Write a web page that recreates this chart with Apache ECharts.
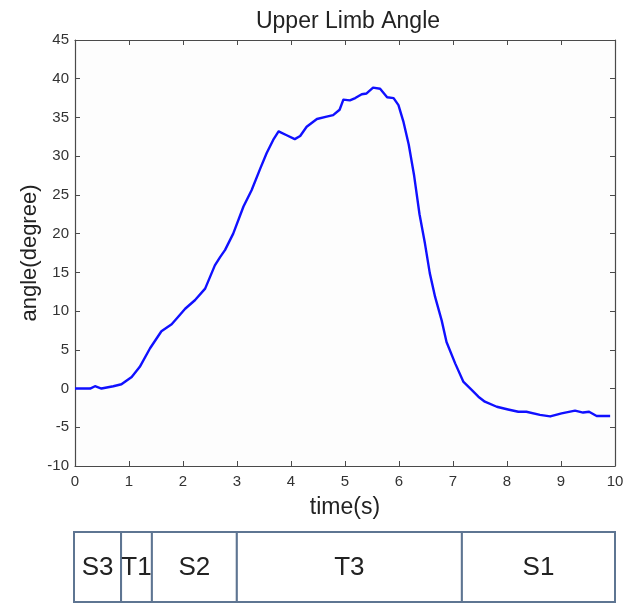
<!DOCTYPE html>
<html>
<head>
<meta charset="utf-8">
<title>Upper Limb Angle</title>
<script src="https://cdn.jsdelivr.net/npm/echarts@6/dist/echarts.min.js"></script>
<style>
  html, body { margin: 0; padding: 0; background: #fff; }
  #main { width: 640px; height: 605px; }
</style>
</head>
<body>
<div id="main"></div>
<script>
// time (s) and angle (degree)
var timeSec = [0, 0.28, 0.37, 0.49, 0.71, 0.86, 1.05, 1.2, 1.39, 1.6, 1.79, 1.94, 2.04, 2.22, 2.41,
  2.59, 2.69, 2.78, 2.93, 3.12, 3.27, 3.43, 3.55, 3.67, 3.77, 3.92, 4.07, 4.17, 4.29, 4.48, 4.66,
  4.78, 4.9, 4.97, 5.09, 5.19, 5.31, 5.4, 5.52, 5.65, 5.78, 5.9, 5.99, 6.08, 6.18, 6.28, 6.38,
  6.48, 6.57, 6.67, 6.79, 6.88, 7.04, 7.19, 7.35, 7.47, 7.59, 7.81, 8.02, 8.21, 8.36, 8.61, 8.8,
  9.01, 9.26, 9.41, 9.52, 9.66, 9.91];
var angleDeg = [0, 0, 0.3, 0, 0.3, 0.55, 1.5, 2.8, 5.2, 7.4, 8.3, 9.5, 10.3, 11.4, 12.9,
  15.9, 17.0, 17.9, 20.0, 23.5, 25.6, 28.4, 30.4, 32.1, 33.2, 32.7, 32.2, 32.6, 33.8, 34.8, 35.1,
  35.3, 36.0, 37.3, 37.2, 37.5, 38.0, 38.1, 38.85, 38.7, 37.6, 37.5, 36.6, 34.5, 31.5, 27.5, 22.5,
  18.75, 14.9, 11.8, 8.8, 6.0, 3.25, 0.9, -0.2, -1.05, -1.7, -2.35, -2.7, -3.0, -3.0, -3.4, -3.6,
  -3.2, -2.85, -3.1, -3.0, -3.55, -3.55];

// phase strip under the chart
var phaseLabels = ['S3', 'T1', 'S2', 'T3', 'S1'];
var phaseBounds = [0, 0.87, 1.44, 3.01, 7.17, 10];

var yMin = -10, yMax = 45, yStep = 5;

var curve = [];
for (var i = 0; i < timeSec.length; i++) {
  curve.push([timeSec[i], angleDeg[i]]);
}
var phases = [];
for (var i = 0; i < phaseLabels.length; i++) {
  phases.push([phaseBounds[i], phaseBounds[i + 1]]);
}

var axisColor = '#4a4a4a';
var font = 'Liberation Sans, Arial, sans-serif';

// axis line + inward ticks, used for all four sides of the frame
function frameLine() {
  return { show: true, onZero: false, lineStyle: { color: axisColor, width: 1.2 } };
}
function frameTick() {
  return { show: true, inside: true, length: 5, lineStyle: { color: axisColor, width: 1 } };
}

var myChart = echarts.init(document.getElementById('main'));
var option = {
  backgroundColor: '#fff',
  animation: false,
  title: {
    text: 'Upper Limb Angle',
    left: 343,
    textAlign: 'center',
    top: 5,
    textStyle: { fontFamily: font, fontWeight: 'normal', fontSize: 23, color: '#222' }
  },
  grid: [
    { left: 75, right: 25, top: 40, bottom: 139, show: true, backgroundColor: '#fdfdfd', borderWidth: 0 },
    { left: 74, right: 25, top: 532, height: 70 }
  ],
  xAxis: [
    {
      type: 'value', gridIndex: 0, position: 'bottom', min: 0, max: 10, interval: 1,
      name: 'time(s)', nameLocation: 'middle', nameGap: 30, nameMoveOverlap: false,
      nameTextStyle: { fontFamily: font, fontSize: 23, color: '#222' },
      axisLine: frameLine(), axisTick: frameTick(), splitLine: { show: false },
      axisLabel: { fontFamily: font, fontSize: 15, color: '#333', margin: 8 }
    },
    {
      type: 'value', gridIndex: 0, position: 'top', min: 0, max: 10, interval: 1,
      axisLine: frameLine(), axisTick: frameTick(), splitLine: { show: false },
      axisLabel: { show: false }
    },
    { type: 'value', gridIndex: 1, min: 0, max: 10, show: false }
  ],
  yAxis: [
    {
      type: 'value', gridIndex: 0, position: 'left', min: yMin, max: yMax, interval: yStep,
      name: 'angle(degree)', nameLocation: 'middle', nameGap: 34, nameMoveOverlap: false,
      nameTextStyle: { fontFamily: font, fontSize: 22, color: '#222' },
      axisLine: frameLine(), axisTick: frameTick(), splitLine: { show: false },
      axisLabel: { fontFamily: font, fontSize: 15, color: '#333', margin: 6 }
    },
    {
      type: 'value', gridIndex: 0, position: 'right', min: yMin, max: yMax, interval: yStep,
      axisLine: frameLine(), axisTick: frameTick(), splitLine: { show: false },
      axisLabel: { show: false }
    },
    { type: 'value', gridIndex: 1, min: 0, max: 1, show: false }
  ],
  series: [
    {
      type: 'line',
      xAxisIndex: 0,
      yAxisIndex: 0,
      data: curve,
      showSymbol: false,
      smooth: false,
      lineStyle: { color: '#1010ff', width: 2.4, join: 'round' },
      z: 5
    },
    {
      type: 'custom',
      xAxisIndex: 2,
      yAxisIndex: 2,
      data: phases,
      encode: { x: [0, 1] },
      clip: false,
      renderItem: function (params, api) {
        var s = api.coord([api.value(0), 1]);
        var e = api.coord([api.value(1), 0]);
        return {
          type: 'group',
          children: [
            {
              type: 'rect',
              shape: { x: s[0], y: s[1], width: e[0] - s[0], height: e[1] - s[1] },
              style: { fill: '#fff', stroke: '#5e7592', lineWidth: 2 }
            },
            {
              type: 'text',
              style: {
                text: phaseLabels[params.dataIndex],
                x: (s[0] + e[0]) / 2,
                y: (s[1] + e[1]) / 2 + 1,
                align: 'center',
                verticalAlign: 'middle',
                fontFamily: 'Liberation Sans Narrow, Liberation Sans, sans-serif',
                fontSize: 26,
                fill: '#222'
              }
            }
          ]
        };
      }
    }
  ]
};
myChart.setOption(option);
</script>
</body>
</html>
